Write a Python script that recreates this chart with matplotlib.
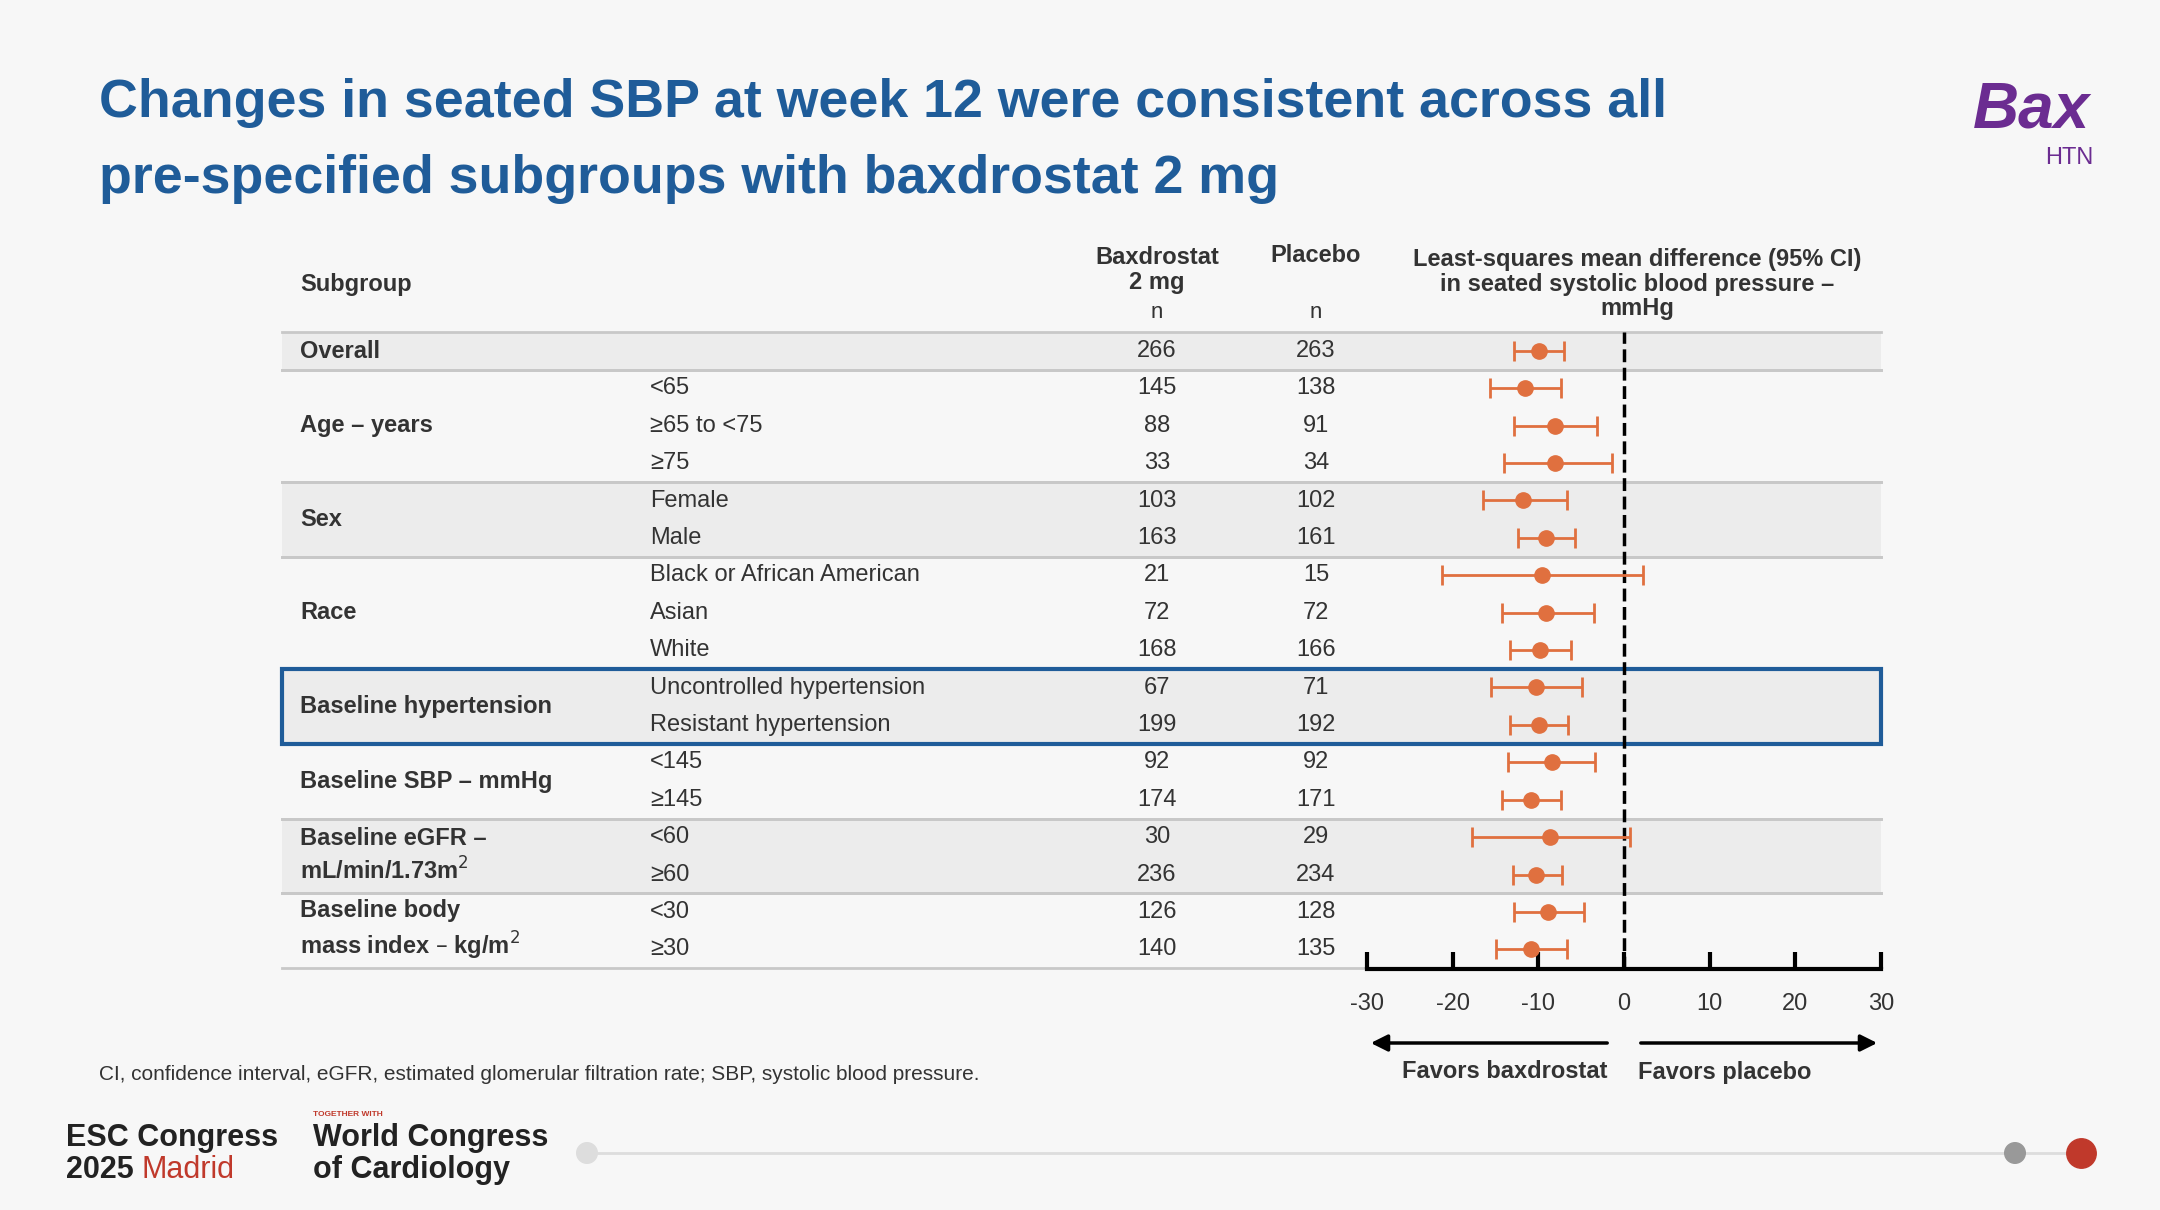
import matplotlib.pyplot as plt
from matplotlib.patches import Rectangle, FancyArrowPatch


plt.rcParams['font.family'] = ['Liberation Sans', 'DejaVu Sans']
plt.rcParams['axes.unicode_minus'] = False

# 亚组数据: 大类, 子类, 巴司他n, 安慰剂n, 均值差, 下限, 上限
rows = [
    ['Overall', '', 266, 263, -9.9, -12.8, -7.0],
    ['Age – years', '<65', 145, 138, -11.6, -15.6, -7.3],
    ['', '≥65 to <75', 88, 91, -8.1, -12.8, -3.2],
    ['', '≥75', 33, 34, -8.0, -14.0, -1.4],
    ['Sex', 'Female', 103, 102, -11.8, -16.5, -6.7],
    ['', 'Male', 163, 161, -9.1, -12.4, -5.7],
    ['Race', 'Black or African American', 21, 15, -9.6, -21.2, 2.2],
    ['', 'Asian', 72, 72, -9.1, -14.2, -3.5],
    ['', 'White', 168, 166, -9.8, -13.3, -6.2],
    ['Baseline hypertension', 'Uncontrolled hypertension', 67, 71, -10.3, -15.5, -4.9],
    ['', 'Resistant hypertension', 199, 192, -9.9, -13.3, -6.5],
    ['Baseline SBP – mmHg', '<145', 92, 92, -8.4, -13.5, -3.4],
    ['', '≥145', 174, 171, -10.9, -14.2, -7.3],
    ['Baseline eGFR –\nmL/min/1.73m$^2$', '<60', 30, 29, -8.6, -17.7, 0.7],
    ['', '≥60', 236, 234, -10.3, -13.0, -7.2],
    ['Baseline body\nmass index – kg/m$^2$', '<30', 126, 128, -8.9, -12.8, -4.7],
    ['', '≥30', 140, 135, -10.9, -14.9, -6.7],
]
groups = [(0, 0), (1, 3), (4, 5), (6, 8), (9, 10), (11, 12), (13, 14), (15, 16)]
shaded = [0, 2, 4, 6]

TXT = '#333333'
ORANGE = '#E0703F'
BLUE = '#1F5C99'
FS = 17
y0, dy = 351, 37.4  # 第一行像素位置与行距


def ypix(r):
    return y0 + dy * r


fig = plt.figure(figsize=(21.6, 12.1), dpi=100, facecolor='#f7f7f7')
bg = fig.add_axes([0, 0, 1, 1])
bg.set_xlim(0, 2160)
bg.set_ylim(1210, 0)
bg.axis('off')

# 标题
bg.text(99, 103, 'Changes in seated SBP at week 12 were consistent across all',
        fontsize=38.7, fontweight='bold', color=BLUE, va='center')
bg.text(99, 179, 'pre-specified subgroups with baxdrostat 2 mg',
        fontsize=38.7, fontweight='bold', color=BLUE, va='center')
bg.text(2090, 110, 'Bax', fontsize=46, fontweight='bold', style='italic',
        color='#6B2C91', ha='right', va='center')
bg.text(2093, 158, 'HTN', fontsize=17, color='#6B2C91', ha='right', va='center')

# 表头
bg.text(300, 285, 'Subgroup', fontsize=FS, fontweight='bold', color=TXT, va='center')
bg.text(1157, 270, 'Baxdrostat\n2 mg', fontsize=FS, fontweight='bold', color=TXT,
        ha='center', va='center', linespacing=1.1)
bg.text(1316, 255, 'Placebo', fontsize=FS, fontweight='bold', color=TXT, ha='center', va='center')
for xx in [1157, 1316]:
    bg.text(xx, 313, 'n', fontsize=FS - 1, color=TXT, ha='center', va='center')
bg.text(1637, 284, 'Least-squares mean difference (95% CI)\nin seated systolic blood pressure –\nmmHg',
        fontsize=FS, fontweight='bold', color=TXT, ha='center', va='center', linespacing=1.1)

# 分组底色和分隔线
for gi, (a, b) in enumerate(groups):
    top, bot = ypix(a - 0.5), ypix(b + 0.5)
    if gi in shaded:
        bg.add_patch(Rectangle((282, top), 1881 - 282, bot - top, color='#ececec', lw=0, zorder=0))
    bg.plot([282, 1881], [top, top], color='#c8c8c8', lw=2, zorder=1)
    bg.plot([282, 1881], [bot, bot], color='#c8c8c8', lw=2, zorder=1)
    bg.text(300, (top + bot) / 2, rows[a][0], fontsize=FS, fontweight='bold', color=TXT,
            va='center', linespacing=1.3)
a, b = groups[4]
bg.add_patch(Rectangle((282, ypix(a - 0.5)), 1881 - 282, ypix(b + 0.5) - ypix(a - 0.5),
                       fill=False, ec=BLUE, lw=3, zorder=3))

for i, r in enumerate(rows):
    bg.text(650, ypix(i), r[1], fontsize=FS, color=TXT, va='center')
    bg.text(1157, ypix(i), str(r[2]), fontsize=FS, color=TXT, ha='center', va='center')
    bg.text(1316, ypix(i), str(r[3]), fontsize=FS, color=TXT, ha='center', va='center')

# 森林图
ax = fig.add_axes([1367 / 2160, 1 - 969 / 1210, (1881 - 1367) / 2160, (969 - 332) / 1210])
ax.patch.set_alpha(0)
n = len(rows)
ys = list(range(n))
est = [r[4] for r in rows]
lo = [r[4] - r[5] for r in rows]
hi = [r[6] - r[4] for r in rows]
ax.errorbar(est, ys, xerr=[lo, hi], fmt='o', color=ORANGE, ms=11, lw=2,
            capsize=7, capthick=2, zorder=3)
ax.axvline(0, color='black', ls='--', lw=2.5, zorder=2)
ax.set_xlim(-30, 30)
ax.set_ylim((969 - y0) / dy, -0.5)
ax.set_xticks([-30, -20, -10, 0, 10, 20, 30])
ax.tick_params(axis='x', direction='in', length=12, width=3, labelsize=FS, pad=17, labelcolor=TXT)
ax.set_yticks([])
for s in ['left', 'top', 'right']:
    ax.spines[s].set_visible(False)
ax.spines['bottom'].set_linewidth(3)

# 方向箭头
for x1, x2 in [(1610, 1368), (1638, 1880)]:
    bg.add_patch(FancyArrowPatch((x1, 1043), (x2, 1043), arrowstyle='-|>', mutation_scale=25,
                                 lw=2.5, color='black'))
bg.text(1505, 1072, 'Favors baxdrostat', fontsize=FS, fontweight='bold', color=TXT, ha='center', va='center')
bg.text(1725, 1072, 'Favors placebo', fontsize=FS, fontweight='bold', color=TXT, ha='center', va='center')

bg.text(99, 1075, 'CI, confidence interval, eGFR, estimated glomerular filtration rate; SBP, systolic blood pressure.',
        fontsize=15, color=TXT, va='center')

# 页脚
bg.text(66, 1138, 'ESC Congress', fontsize=22, fontweight='bold', color='#222222', va='center')
bg.text(66, 1170, '2025', fontsize=22, fontweight='bold', color='#222222', va='center')
bg.text(142, 1170, 'Madrid', fontsize=22, color='#c0392b', va='center')
bg.text(313, 1114, 'TOGETHER WITH', fontsize=6, fontweight='bold', color='#c0392b', va='center')
bg.text(313, 1138, 'World Congress', fontsize=22, fontweight='bold', color='#222222', va='center')
bg.text(313, 1170, 'of Cardiology', fontsize=22, fontweight='bold', color='#222222', va='center')
bg.plot([587, 2081], [1153, 1153], color='#dddddd', lw=2, zorder=1)
bg.scatter([587, 2015], [1153, 1153], s=[220, 220], color=['#dddddd', '#999999'], zorder=2)
bg.scatter([2081], [1153], s=450, color='#c0392b', zorder=2)

fig.savefig('out.png', dpi=100, facecolor=fig.get_facecolor())
